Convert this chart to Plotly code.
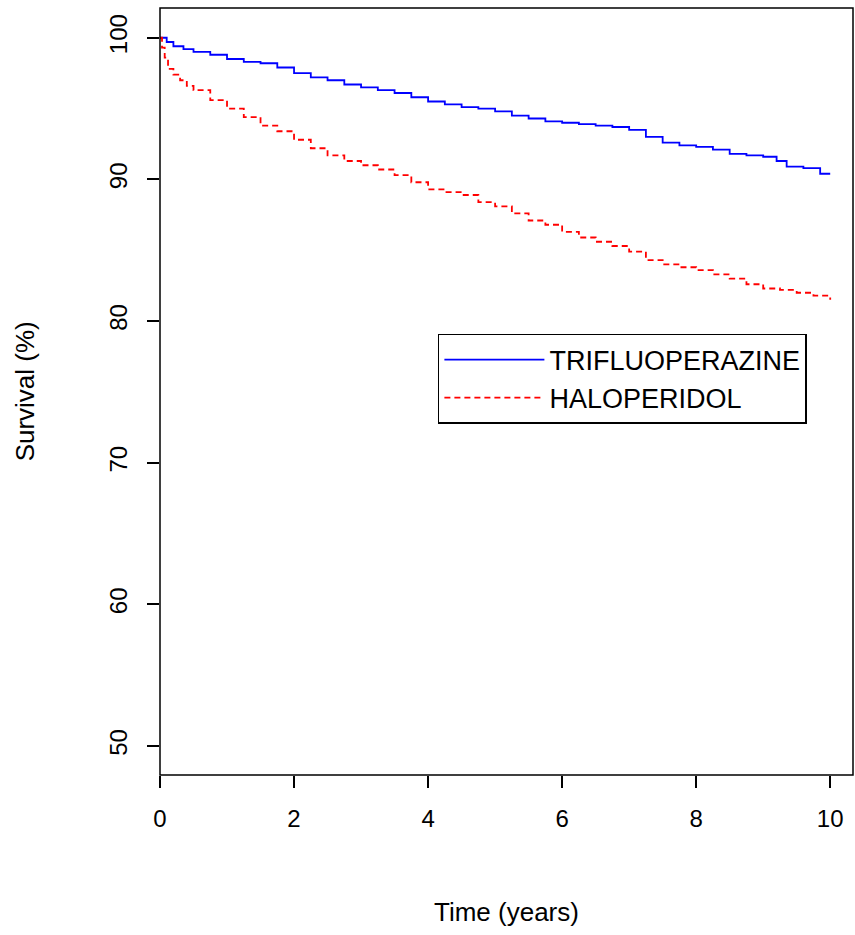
import plotly.graph_objects as go

t_tri = [0,0.1,0.2,0.35,0.5,0.75,1,1.25,1.5,1.75,2,2.25,2.5,2.75,3,3.25,3.5,3.75,4,4.25,4.5,4.75,5,5.25,5.5,5.75,6,6.25,6.5,6.75,7,7.25,7.5,7.75,8,8.25,8.5,8.75,9,9.2,9.35,9.6,9.85,10]
s_tri = [100,99.7,99.4,99.2,99.0,98.8,98.5,98.3,98.2,97.9,97.5,97.2,97.0,96.7,96.5,96.3,96.1,95.8,95.5,95.3,95.1,95.0,94.8,94.5,94.3,94.1,94.0,93.9,93.8,93.7,93.5,93.0,92.6,92.4,92.3,92.1,91.8,91.7,91.6,91.3,90.9,90.8,90.4,90.4]
t_hal = [0,0.03,0.07,0.12,0.2,0.3,0.4,0.5,0.75,1,1.25,1.5,1.75,2,2.25,2.5,2.75,3,3.25,3.5,3.75,4,4.25,4.5,4.75,5,5.25,5.5,5.75,6,6.25,6.5,6.75,7,7.25,7.5,7.75,8,8.25,8.5,8.75,9,9.25,9.5,9.75,10]
s_hal = [100,99.3,98.6,97.8,97.4,97.0,96.6,96.3,95.6,95.0,94.4,93.8,93.4,92.8,92.2,91.7,91.3,91.0,90.7,90.3,89.8,89.3,89.1,88.9,88.4,88.1,87.6,87.1,86.8,86.3,85.9,85.6,85.3,84.9,84.3,84.0,83.8,83.6,83.3,83.0,82.6,82.3,82.2,82.0,81.8,81.5]

xticks = [0,2,4,6,8,10]
yticks = [50,60,70,80,90,100]

fig = go.Figure()
fig.add_trace(go.Scatter(x=t_tri, y=s_tri, mode="lines", line=dict(color="#0000FF", width=1.8, shape="hv"), name="TRIFLUOPERAZINE"))
fig.add_trace(go.Scatter(x=t_hal, y=s_hal, mode="lines", line=dict(color="#FF0000", width=1.8, shape="hv", dash="6px,4px"), name="HALOPERIDOL"))

ax = dict(showgrid=False, zeroline=False, showline=False,
          ticks="outside", ticklen=12, tickcolor="black", tickwidth=1.5, automargin=False,
          tickfont=dict(size=24), ticklabelstandoff=10)
fig.update_layout(
    width=855, height=935, paper_bgcolor="white", plot_bgcolor="white",
    margin=dict(l=160, r=2, t=8, b=160),
    font=dict(family="Liberation Sans, Arial", size=24, color="black"),
    showlegend=True,
    legend=dict(x=0.401, y=0.575, xanchor="left", yanchor="top", bordercolor="black", borderwidth=1.5,
                font=dict(size=27), bgcolor="white", itemwidth=100, tracegroupgap=0, entrywidth=330),
    xaxis=dict(range=[0,10.34], tickvals=xticks, **ax),
    yaxis=dict(range=[47.96,102.1], tickvals=yticks, tickangle=-90, **ax),
    shapes=[dict(type="rect", xref="paper", yref="paper", x0=0, y0=0, x1=1, y1=1, line=dict(color="black", width=1.5))],
    annotations=[
        dict(text="Time (years)", xref="paper", yref="paper", x=0.5, y=-0.178, showarrow=False, font=dict(size=26), xanchor="center", yanchor="middle"),
        dict(text="Survival (%)", xref="paper", yref="paper", x=-0.195, y=0.5, showarrow=False, font=dict(size=26), textangle=-90, xanchor="center", yanchor="middle"),
    ],
)
fig.write_html("out.html", config={"displayModeBar": False},
               post_script="document.body.style.margin='0';document.body.style.overflow='hidden';")
